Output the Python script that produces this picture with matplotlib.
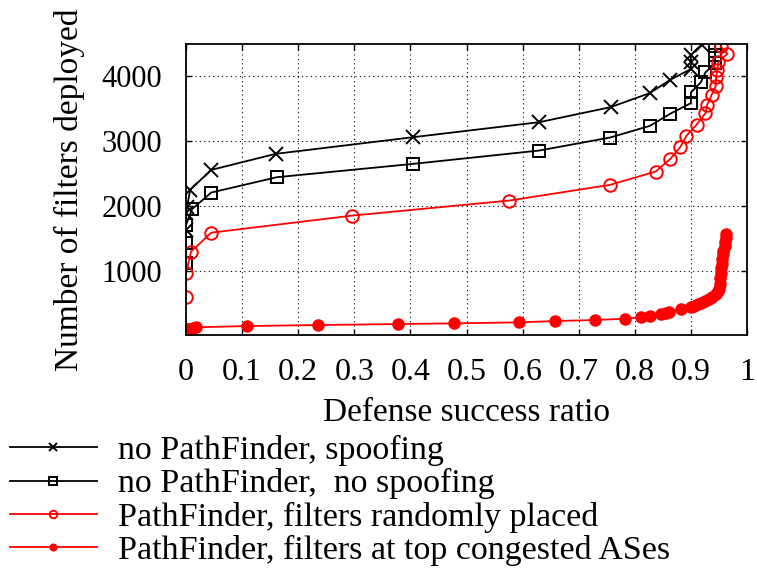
import numpy as np
import matplotlib
matplotlib.use("Agg")
import matplotlib.pyplot as plt

plt.rcParams['font.family'] = ['Liberation Serif', 'DejaVu Serif']
plt.rcParams['font.size'] = 22

# no PathFinder, spoofing
spoof_x = [0, 0, 0.002, 0.0075, 0.045, 0.16, 0.405, 0.63, 0.757, 0.827, 0.863, 0.90, 0.90, 0.90, 0.919]
spoof_y = [1630, 1890, 1990, 2250, 2556, 2804, 3061, 3293, 3525, 3742, 3947, 4113, 4220, 4330, 4490]

# no PathFinder, no spoofing
nospoof_x = [0, 0, 0, 0.011, 0.045, 0.162, 0.405, 0.63, 0.756, 0.827, 0.863, 0.90, 0.90,
             0.9175, 0.926, 0.943, 0.943, 0.943]
nospoof_y = [1124, 1423, 1706, 1953, 2206, 2443, 2649, 2855, 3056, 3236, 3422, 3587, 3751,
             3906, 4061, 4205, 4334, 4473]

# PathFinder, filters randomly placed
rand_x = [0, 0, 0.009, 0.045, 0.296, 0.576, 0.756, 0.837, 0.863, 0.881, 0.892, 0.91, 0.926,
          0.929, 0.937, 0.944, 0.945, 0.947, 0.949, 0.965, 0.953]
rand_y = [589, 960, 1294, 1587, 1850, 2082, 2325, 2530, 2722, 2907, 3082, 3252, 3433,
          3561, 3716, 3844, 3983, 4102, 4215, 4350, 4462]

# PathFinder, filters at top congested ASes
top_x = [0, 0.002, 0.006, 0.012, 0.018, 0.108, 0.235, 0.378, 0.477, 0.594, 0.658, 0.729,
         0.783, 0.811, 0.827, 0.846, 0.855, 0.861, 0.882, 0.90, 0.905, 0.912, 0.918, 0.926,
         0.932, 0.938, 0.944, 0.948, 0.950, 0.951, 0.952, 0.953, 0.954, 0.955, 0.956, 0.957,
         0.958, 0.960, 0.961, 0.962, 0.962]
top_y = [83, 95, 105, 115, 125, 145, 160, 176, 186, 202, 222, 238,
         258, 280, 305, 331, 350, 367, 403, 444, 460, 480, 500, 530,
         560, 600, 640, 680, 720, 800, 880, 960, 1040, 1100, 1180, 1250,
         1300, 1380, 1450, 1500, 1560]

xticks = [0, 0.1, 0.2, 0.3, 0.4, 0.5, 0.6, 0.7, 0.8, 0.9, 1]
xticklabels = ['0', '0.1', '0.2', '0.3', '0.4', '0.5', '0.6', '0.7', '0.8', '0.9', '1']
yticks = [1000, 2000, 3000, 4000]

fig = plt.figure(figsize=(7.57, 5.69), dpi=100)
ax = fig.add_axes([0.2457, 0.4105, 0.7411, 0.5122])

ax.plot(spoof_x, spoof_y, '-', color='black', lw=1.3, marker='x', ms=10, mew=1.4,
        label='no PathFinder, spoofing')
ax.plot(nospoof_x, nospoof_y, '-', color='black', lw=1.3, marker='s', ms=9, mew=1.4,
        mfc='none', label='no PathFinder,  no spoofing')
ax.plot(rand_x, rand_y, '-', color='red', lw=1.3, marker='o', ms=9, mew=1.4,
        mfc='none', label='PathFinder, filters randomly placed')
ax.plot(top_x, top_y, '-', color='red', lw=1.3, marker='o', ms=8,
        label='PathFinder, filters at top congested ASes')

ax.set_xlim(0, 1)
ax.set_ylim(0, 4500)
ax.set_xticks(xticks)
ax.set_xticklabels(xticklabels, fontsize=23)
ax.set_yticks(yticks)
ax.tick_params(direction='in', length=4, width=1, top=True, right=True)
ax.tick_params(axis='x', pad=16)
ax.tick_params(axis='y', pad=17)
ax.grid(True, color='black', linestyle=(0, (1, 3)), linewidth=0.8)
for s in ax.spines.values():
    s.set_linewidth(1.3)

ax.set_xlabel('Defense success ratio', fontsize=24, labelpad=8)
ax.set_ylabel('Number of filters deployed', fontsize=24, labelpad=12)

fig.legend(loc='upper left', bbox_to_anchor=(0.013, 0.235), frameon=False,
           fontsize=24.5, handlelength=2.55, handletextpad=0.62, labelspacing=0.06,
           markerscale=0.6, borderaxespad=0, borderpad=0)

fig.savefig('out.png', dpi=100)
